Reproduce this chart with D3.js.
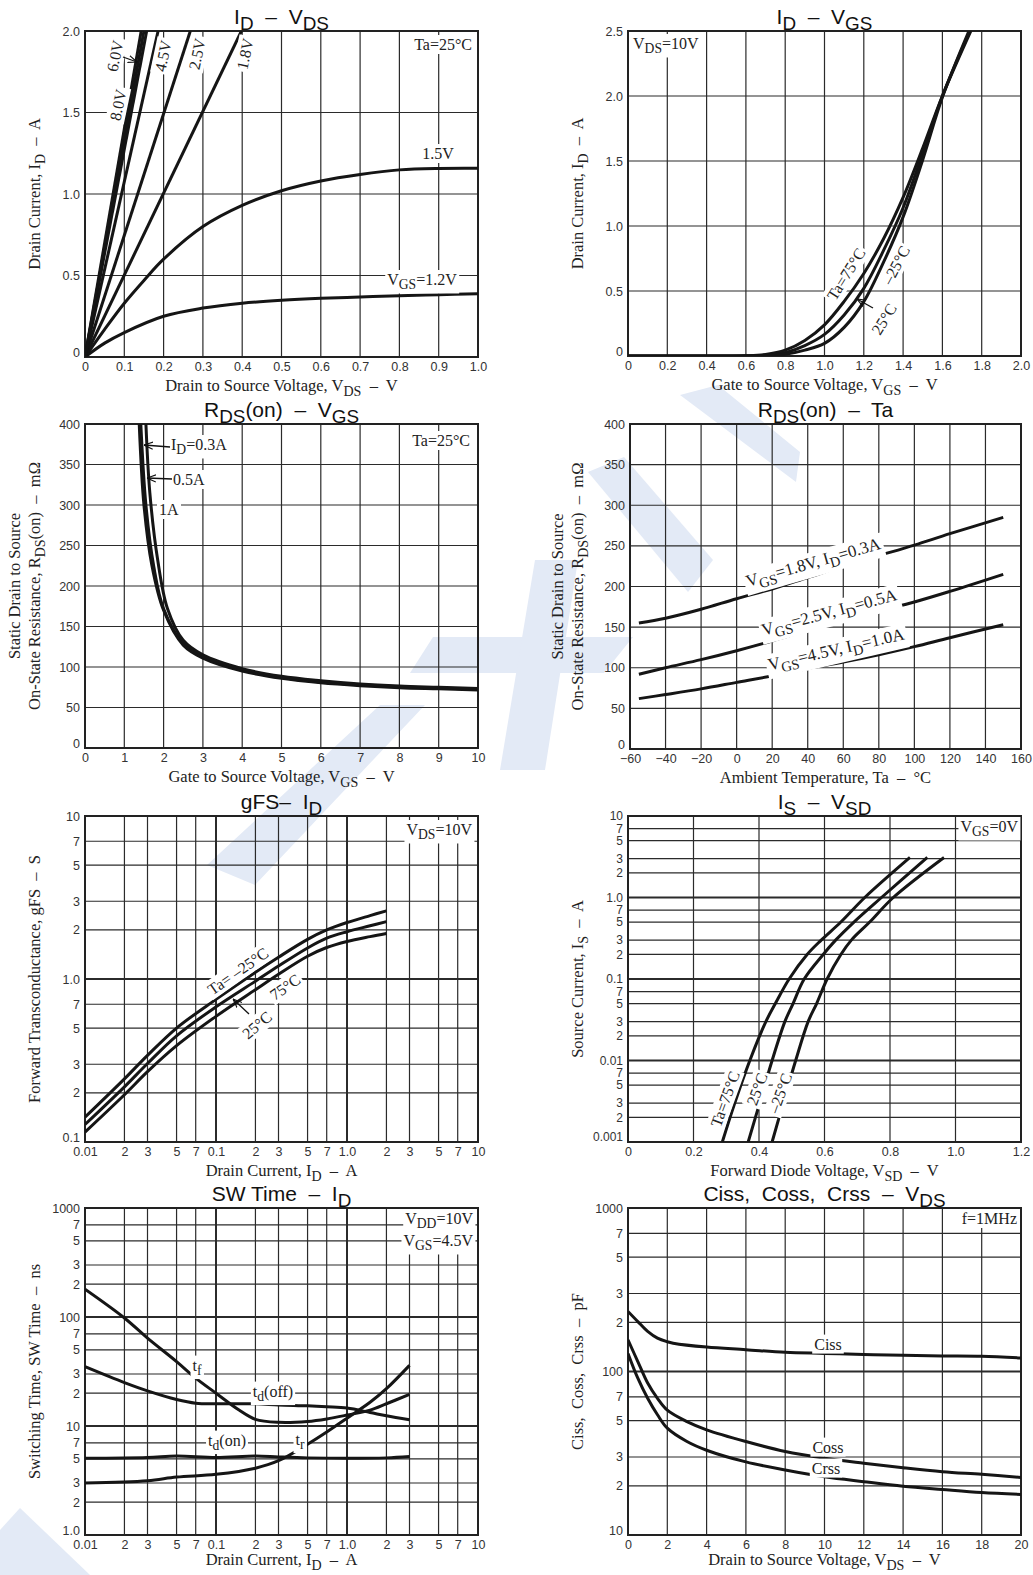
<!DOCTYPE html>
<html>
<head>
<meta charset="utf-8">
<script src="https://cdn.jsdelivr.net/npm/d3@7"></script>
<style>
body { margin: 0; background: #fff; }
.tick text { font-family: "Liberation Sans", Arial, sans-serif; font-size: 12.5px; fill: #333; }
.serif { font-family: "Liberation Serif", "Times New Roman", serif; fill: #222; }
.title { font-family: "Liberation Sans", Arial, sans-serif; fill: #111; }
</style>
</head>
<body>
<script>
// ---------- data ----------

// ID - VDS
var vdsTicks = [0, 0.1, 0.2, 0.3, 0.4, 0.5, 0.6, 0.7, 0.8, 0.9, 1.0];
var vdsTickLabels = ["0", "0.1", "0.2", "0.3", "0.4", "0.5", "0.6", "0.7", "0.8", "0.9", "1.0"];
var idTicksA = [0, 0.5, 1.0, 1.5, 2.0];
var idTickLabelsA = ["0", "0.5", "1.0", "1.5", "2.0"];
var idVds12 = [[0,0],[0.05,0.085],[0.1,0.15],[0.2,0.25],[0.3,0.3],[0.4,0.33],[0.5,0.348],[0.6,0.36],[0.7,0.368],[0.8,0.376],[0.9,0.382],[1.0,0.388]];
var idVds15 = [[0,0],[0.05,0.17],[0.1,0.33],[0.15,0.47],[0.2,0.6],[0.3,0.8],[0.4,0.93],[0.5,1.02],[0.6,1.08],[0.7,1.12],[0.8,1.148],[0.9,1.157],[1.0,1.158]];
var idVds18 = [[0,0],[0.398,2.0]];
var idVds25 = [[0,0],[0.268,2.0]];
var idVds45 = [[0,0],[0.186,2.0]];
var idVds60 = [[0,0],[0.157,2.0]];
var idVds80 = [[0,0],[0.15,2.0]];
var idVds100 = [[0,0],[0.143,2.0]];

// ID - VGS
var vgsTicksB = [0, 0.2, 0.4, 0.6, 0.8, 1.0, 1.2, 1.4, 1.6, 1.8, 2.0];
var vgsTickLabelsB = ["0", "0.2", "0.4", "0.6", "0.8", "1.0", "1.2", "1.4", "1.6", "1.8", "2.0"];
var idTicksB = [0, 0.5, 1.0, 1.5, 2.0, 2.5];
var idTickLabelsB = ["0", "0.5", "1.0", "1.5", "2.0", "2.5"];
var idVgs75 = [[0,0],[0.5,0],[0.6,0.002],[0.7,0.012],[0.8,0.045],[0.9,0.12],[1.0,0.24],[1.1,0.42],[1.2,0.635],[1.3,0.9],[1.4,1.22],[1.5,1.6],[1.6,2.0],[1.745,2.5]];
var idVgs25 = [[0,0],[0.5,0],[0.6,0.001],[0.7,0.007],[0.8,0.026],[0.9,0.08],[1.0,0.166],[1.1,0.315],[1.2,0.52],[1.3,0.81],[1.4,1.14],[1.5,1.56],[1.6,2.0],[1.74,2.5]];
var idVgsM25 = [[0,0],[0.6,0],[0.7,0.003],[0.8,0.013],[0.9,0.045],[1.0,0.097],[1.1,0.22],[1.2,0.418],[1.3,0.72],[1.4,1.07],[1.5,1.51],[1.6,1.99],[1.735,2.5]];

// RDS(on) - VGS
var vgsTicksC = [0, 1, 2, 3, 4, 5, 6, 7, 8, 9, 10];
var vgsTickLabelsC = ["0", "1", "2", "3", "4", "5", "6", "7", "8", "9", "10"];
var rdsTicks = [0, 50, 100, 150, 200, 250, 300, 350, 400];
var rdsTickLabels = ["0", "50", "100", "150", "200", "250", "300", "350", "400"];
var rdsVgs03 = [[1.38,400],[1.5,300],[1.7,226],[2,170],[2.5,127],[3,111],[4,95],[5,86],[6,80.5],[7,77],[8,74.5],[9,73],[10,71.5]];
var rdsVgs05 = [[1.42,400],[1.55,300],[1.75,224],[2,172],[2.5,129],[3,113],[4,96.5],[5,87],[6,81.5],[7,78],[8,75.5],[9,74],[10,72.5]];
var rdsVgs10 = [[1.55,400],[1.65,315],[1.85,232],[2.1,172],[2.5,133],[3,115],[4,98],[5,88.5],[6,83],[7,79],[8,76.5],[9,75],[10,73.5]];

// RDS(on) - Ta
var taTicks = [-60, -40, -20, 0, 20, 40, 60, 80, 100, 120, 140, 160];
var taTickLabels = ["\u221260", "\u221240", "\u221220", "0", "20", "40", "60", "80", "100", "120", "140", "160"];
var rdsTa18 = [[-55,155],[-40,161],[-20,172],[0,185],[20,197],[40,211],[60,225],[80,238],[100,251],[120,265],[150,285]];
var rdsTa25 = [[-55,92],[-40,100],[-20,110],[0,121],[20,133],[40,146],[60,158],[80,170],[100,181],[120,194],[150,215]];
var rdsTa45 = [[-55,62],[-40,67],[-20,74],[0,82],[20,90],[40,99],[60,107],[80,116],[100,126],[120,137],[150,153]];

// log axes
var idLogTicks = [0.01,0.02,0.03,0.05,0.07,0.1,0.2,0.3,0.5,0.7,1,2,3,5,7,10];
var idLogLabels = ["0.01","2","3","5","7","0.1","2","3","5","7","1.0","2","3","5","7","10"];

// gFS - ID
var gfsTicks = [0.1,0.2,0.3,0.5,0.7,1,2,3,5,7,10];
var gfsTickLabels = ["0.1","2","3","5","7","1.0","2","3","5","7","10"];
var gfsM25 = [[0.01,0.142],[0.02,0.244],[0.03,0.34],[0.05,0.5],[0.1,0.75],[0.2,1.1],[0.3,1.36],[0.5,1.75],[0.7,2.0],[1.0,2.22],[1.5,2.45],[2.0,2.62]];
var gfs25 = [[0.01,0.128],[0.02,0.218],[0.03,0.303],[0.05,0.448],[0.1,0.675],[0.2,0.97],[0.3,1.2],[0.5,1.55],[0.7,1.78],[1.0,1.95],[1.5,2.12],[2.0,2.25]];
var gfs75 = [[0.01,0.115],[0.02,0.195],[0.03,0.27],[0.05,0.39],[0.1,0.59],[0.2,0.86],[0.3,1.07],[0.5,1.38],[0.7,1.56],[1.0,1.7],[1.5,1.82],[2.0,1.9]];

// IS - VSD
var vsdTicks = [0, 0.2, 0.4, 0.6, 0.8, 1.0, 1.2];
var vsdTickLabels = ["0", "0.2", "0.4", "0.6", "0.8", "1.0", "1.2"];
var isTicks = [0.001,0.002,0.003,0.005,0.007,0.01,0.02,0.03,0.05,0.07,0.1,0.2,0.3,0.5,0.7,1,2,3,5,7,10];
var isTickLabels = ["0.001","2","3","5","7","0.01","2","3","5","7","0.1","2","3","5","7","1.0","2","3","5","7","10"];
var isVsd75 = [[0.288,0.001],[0.326,0.003],[0.372,0.01],[0.421,0.03],[0.45,0.05],[0.492,0.1],[0.547,0.2],[0.59,0.3],[0.65,0.5],[0.723,1.0],[0.861,3.1]];
var isVsd25 = [[0.367,0.001],[0.402,0.003],[0.44,0.01],[0.479,0.03],[0.504,0.05],[0.538,0.1],[0.596,0.2],[0.634,0.3],[0.69,0.5],[0.774,1.0],[0.914,3.1]];
var isVsdM25 = [[0.44,0.001],[0.474,0.003],[0.512,0.01],[0.55,0.03],[0.576,0.05],[0.608,0.1],[0.65,0.2],[0.682,0.3],[0.738,0.5],[0.81,1.0],[0.965,3.1]];

// SW time - ID
var swTicks = [1,2,3,5,7,10,20,30,50,70,100,200,300,500,700,1000];
var swTickLabels = ["1.0","2","3","5","7","10","2","3","5","7","100","2","3","5","7","1000"];
var swTf = [[0.01,180],[0.02,98],[0.03,64],[0.05,39],[0.07,27.5],[0.1,20],[0.15,14],[0.2,11.5],[0.3,10.8],[0.5,11],[0.7,11.6],[1.0,12.6],[1.5,14],[2.0,16],[3.0,19.5]];
var swTdOff = [[0.01,35],[0.02,25],[0.03,21],[0.05,17.5],[0.07,16.2],[0.1,16],[0.2,16],[0.3,15.6],[0.5,15.3],[0.7,15],[1.0,14.6],[1.5,13.3],[2.0,12.4],[3.0,11.4]];
var swTr = [[0.01,3.0],[0.03,3.15],[0.05,3.4],[0.1,3.6],[0.2,4.1],[0.3,4.8],[0.5,6.8],[0.7,8.8],[1.0,11.8],[1.5,16.5],[2.0,22],[3.0,36]];
var swTdOn = [[0.01,5.05],[0.03,5.15],[0.05,5.3],[0.1,5.15],[0.2,5.3],[0.3,5.2],[0.5,5.1],[1.0,5.05],[2.0,5.1],[3.0,5.25]];

// Ciss, Coss, Crss - VDS
var vdsTicksH = [0, 2, 4, 6, 8, 10, 12, 14, 16, 18, 20];
var vdsTickLabelsH = ["0", "2", "4", "6", "8", "10", "12", "14", "16", "18", "20"];
var capTicks = [10,20,30,50,70,100,200,300,500,700,1000];
var capTickLabels = ["10","2","3","5","7","100","2","3","5","7","1000"];
var ciss = [[0,233],[0.5,202],[1,176],[1.5,160],[2,152],[2.3,149],[4,141],[6,136],[8,131],[10,129],[12,127],[14,125.6],[16,124.6],[18,124],[20,121]];
var coss = [[0,156],[0.5,115],[1,85],[1.5,68.5],[2,58],[3,49.4],[4,44],[6,37.3],[8,32.4],[10,29.5],[12,27.5],[14,25.8],[16,24.4],[18,23.5],[20,22.5]];
var crss = [[0,129],[0.5,91],[1,68.6],[1.5,54.4],[2,45],[3,37.3],[4,33],[6,28],[8,25],[10,22.7],[12,21.2],[14,19.9],[16,19],[18,18.2],[20,17.7]];

// ---------- drawing ----------
var W = 1033, H = 1575;
var svg = d3.select("body").append("svg").attr("width", W).attr("height", H);

svg.append("defs").append("marker")
    .attr("id", "ah").attr("viewBox", "0 0 10 10")
    .attr("refX", 10).attr("refY", 5)
    .attr("markerWidth", 9).attr("markerHeight", 9)
    .attr("markerUnits", "userSpaceOnUse")
    .attr("orient", "auto")
    .append("path").attr("d", "M0,1L10,5L0,9")
    .attr("fill", "none").attr("stroke", "#111").attr("stroke-width", 1.3);

// faint logo in the background
var watermark = [
    [[680,395],[718,385],[800,452],[796,482]],
    [[588,472],[624,457],[713,560],[688,592]],
    [[433,637],[633,637],[604,673],[410,673]],
    [[535,560],[578,560],[545,770],[500,770]],
    [[380,705],[425,705],[255,885],[207,865]],
    [[0,1530],[20,1508],[90,1575],[0,1575]]
];
svg.append("g").selectAll("polygon").data(watermark).join("polygon")
    .attr("points", d => d.map(p => p.join(",")).join(" "))
    .attr("fill", "#e3eaf6");

function isDecade(d) {
    var l = Math.log10(d);
    return Math.abs(l - Math.round(l)) < 1e-6;
}

function addText(parent, str, size, subScale) {
    var t = parent.append("text").style("white-space", "pre").attr("font-size", size);
    var parts = str.split(/(_\{[^}]*\})/);
    var down = false;
    parts.forEach(function(p) {
        if (p === "") return;
        var m = /^_\{(.*)\}$/.exec(p);
        if (m) {
            t.append("tspan").attr("dy", down ? 0 : size * 0.28).attr("font-size", size * subScale).text(m[1]);
            down = true;
        } else {
            t.append("tspan").attr("dy", down ? -size * 0.28 : 0).text(p);
            down = false;
        }
    });
    return t;
}

function note(str, x, y, o) {
    o = o || {};
    var size = o.size || 16;
    var g = svg.append("g").attr("transform", "translate(" + x + "," + y + ") rotate(" + (o.rot || 0) + ")");
    var t = addText(g, str, size, 0.85)
        .attr("class", "serif")
        .attr("text-anchor", o.anchor || "middle")
        .attr("y", o.mid ? size * 0.35 : 0);
    if (o.bg !== false) {
        var b = t.node().getBBox();
        g.insert("rect", "text")
            .attr("x", b.x - 2).attr("y", b.y - 1)
            .attr("width", b.width + 4).attr("height", b.height + 2)
            .attr("fill", "#fff");
    }
    return g;
}

function arrow(x1, y1, x2, y2) {
    svg.append("line")
        .attr("x1", x1).attr("y1", y1).attr("x2", x2).attr("y2", y2)
        .attr("stroke", "#111").attr("stroke-width", 1.3)
        .attr("marker-end", "url(#ah)");
}

var clipId = 0;
function panel(c) {
    var w = c.x1 - c.x0, h = c.y1 - c.y0;
    var g = svg.append("g").attr("transform", "translate(" + c.x0 + "," + c.y0 + ")");

    var x = (c.xLog ? d3.scaleLog() : d3.scaleLinear()).domain(c.xDomain).range([0, w]);
    var y = (c.yLog ? d3.scaleLog() : d3.scaleLinear()).domain(c.yDomain).range([h, 0]);

    // grid
    g.append("g").selectAll("line").data(c.xTicks).join("line")
        .attr("x1", d => x(d)).attr("x2", d => x(d))
        .attr("y1", 0).attr("y2", h)
        .attr("stroke", "#2b2b2b")
        .attr("stroke-width", d => (c.xLog && isDecade(d)) ? 2 : 1.2);
    g.append("g").selectAll("line").data(c.yTicks).join("line")
        .attr("y1", d => y(d)).attr("y2", d => y(d))
        .attr("x1", 0).attr("x2", w)
        .attr("stroke", "#2b2b2b")
        .attr("stroke-width", d => (c.yLog && isDecade(d)) ? 2 : 1.2);

    // tick labels
    var xl = c.xLabels, yl = c.yLabels;
    g.append("g").attr("transform", "translate(0," + h + ")")
        .call(d3.axisBottom(x).tickValues(c.xTicks).tickFormat((d, i) => xl[i]).tickSize(0).tickPadding(5))
        .call(a => a.select(".domain").remove());
    var ya = g.append("g")
        .call(d3.axisLeft(y).tickValues(c.yTicks).tickFormat((d, i) => yl[i]).tickSize(0).tickPadding(5))
        .call(a => a.select(".domain").remove());
    if (c.yFont) ya.selectAll(".tick text").style("font-size", c.yFont);
    // lowest label sits a little above its line, clear of the x labels
    ya.selectAll(".tick").filter(d => d === c.yDomain[0])
        .select("text").attr("transform", "translate(0,-5)");

    // frame
    g.append("rect").attr("width", w).attr("height", h)
        .attr("fill", "none").attr("stroke", "#222").attr("stroke-width", 2);

    // curves
    clipId++;
    g.append("clipPath").attr("id", "clip" + clipId)
        .append("rect").attr("width", w).attr("height", h);
    var line = d3.line()
        .x(d => x(d[0])).y(d => y(d[1]))
        .curve(d3.curveCatmullRom.alpha(0.5));
    g.append("g").attr("clip-path", "url(#clip" + clipId + ")")
        .selectAll("path").data(c.series).join("path")
        .attr("d", line)
        .attr("fill", "none").attr("stroke", "#151515")
        .attr("stroke-width", 3).attr("stroke-linejoin", "round");

    // title
    var cx = c.x0 + w / 2;
    addText(svg, c.title, 21, 0.9).attr("class", "title")
        .attr("text-anchor", "middle")
        .attr("x", cx).attr("y", c.y0 - 7);

    // axis labels
    addText(svg, c.xTitle, 16.5, 0.85).attr("class", "serif")
        .attr("text-anchor", "middle")
        .attr("x", cx).attr("y", c.y1 + (c.xTitleGap || 34));
    var ycy = c.y0 + h / 2;
    c.yTitle.forEach(function(s, i, arr) {
        var bx = c.yTitleX - (arr.length - 1 - i) * 20;
        addText(svg, s, 16.5, 0.85).attr("class", "serif")
            .attr("text-anchor", "middle")
            .attr("transform", "translate(" + bx + "," + ycy + ") rotate(-90)");
    });
    return g;
}

// 1. ID - VDS
panel({
    x0: 85, x1: 478, y0: 31, y1: 357,
    xDomain: [0, 1], yDomain: [0, 2],
    xTicks: vdsTicks, xLabels: vdsTickLabels,
    yTicks: idTicksA, yLabels: idTickLabelsA,
    series: [idVds12, idVds15, idVds18, idVds25, idVds45, idVds60, idVds80, idVds100],
    title: "I_{D}  \u2013  V_{DS}",
    xTitle: "Drain to Source Voltage, V_{DS}  \u2013  V",
    yTitle: ["Drain Current, I_{D}  \u2013  A"], yTitleX: 40
});
note("Ta=25\u00b0C", 472, 50, {anchor: "end"});
note("1.5V", 438, 159);
note("V_{GS}=1.2V", 422, 285);
note("6.0V", 115, 56, {rot: -78, mid: true});
note("8.0V", 118, 105, {rot: -78, mid: true});
note("4.5V", 163, 56, {rot: -78, mid: true});
note("2.5V", 197, 54, {rot: -78, mid: true});
note("1.8V", 245, 54, {rot: -78, mid: true});
arrow(123, 57, 137, 62);

// 2. ID - VGS
panel({
    x0: 628, x1: 1021, y0: 31, y1: 356,
    xDomain: [0, 2], yDomain: [0, 2.5],
    xTicks: vgsTicksB, xLabels: vgsTickLabelsB,
    yTicks: idTicksB, yLabels: idTickLabelsB,
    series: [idVgs75, idVgs25, idVgsM25],
    title: "I_{D}  \u2013  V_{GS}",
    xTitle: "Gate to Source Voltage, V_{GS}  \u2013  V",
    yTitle: ["Drain Current, I_{D}  \u2013  A"], yTitleX: 583
});
note("V_{DS}=10V", 633, 49, {anchor: "start"});
note("Ta=75\u00b0C", 846, 274, {rot: -58, mid: true});
note("\u201325\u00b0C", 896, 265, {rot: -62, mid: true});
note("25\u00b0C", 884, 319, {rot: -58, mid: true});
arrow(873, 308, 857, 299);

// 3. RDS(on) - VGS
panel({
    x0: 85, x1: 478, y0: 424, y1: 748,
    xDomain: [0, 10], yDomain: [0, 400],
    xTicks: vgsTicksC, xLabels: vgsTickLabelsC,
    yTicks: rdsTicks, yLabels: rdsTickLabels,
    series: [rdsVgs03, rdsVgs05, rdsVgs10],
    title: "R_{DS}(on)  \u2013  V_{GS}",
    xTitle: "Gate to Source Voltage, V_{GS}  \u2013  V",
    yTitle: ["Static Drain to Source", "On-State Resistance, R_{DS}(on)  \u2013  m\u03a9"], yTitleX: 40
});
note("Ta=25\u00b0C", 470, 446, {anchor: "end"});
note("I_{D}=0.3A", 171, 450, {anchor: "start"});
note("0.5A", 173, 485, {anchor: "start"});
note("1A", 159, 515, {anchor: "start"});
arrow(170, 447, 144, 445);
arrow(172, 479, 147, 478);

// 4. RDS(on) - Ta
panel({
    x0: 630, x1: 1021, y0: 424, y1: 749,
    xDomain: [-60, 160], yDomain: [0, 400],
    xTicks: taTicks, xLabels: taTickLabels,
    yTicks: rdsTicks, yLabels: rdsTickLabels,
    series: [rdsTa18, rdsTa25, rdsTa45],
    title: "R_{DS}(on)  \u2013  Ta",
    xTitle: "Ambient Temperature, Ta  \u2013  \u00b0C",
    yTitle: ["Static Drain to Source", "On-State Resistance, R_{DS}(on)  \u2013  m\u03a9"], yTitleX: 583
});
note("V_{GS}=1.8V, I_{D}=0.3A", 813, 562, {rot: -16, mid: true, size: 17});
note("V_{GS}=2.5V, I_{D}=0.5A", 829, 612, {rot: -15, mid: true, size: 17});
note("V_{GS}=4.5V, I_{D}=1.0A", 836, 649, {rot: -13, mid: true, size: 17});

// 5. gFS - ID
panel({
    x0: 85, x1: 478, y0: 816, y1: 1142,
    xLog: true, yLog: true,
    xDomain: [0.01, 10], yDomain: [0.1, 10],
    xTicks: idLogTicks, xLabels: idLogLabels,
    yTicks: gfsTicks, yLabels: gfsTickLabels,
    series: [gfsM25, gfs25, gfs75],
    title: "gFS\u2013  I_{D}",
    xTitle: "Drain Current, I_{D}  \u2013  A",
    yTitle: ["Forward Transconductance, gFS  \u2013  S"], yTitleX: 40
});
note("V_{DS}=10V", 472, 835, {anchor: "end"});
note("Ta= \u201325\u00b0C", 238, 971, {rot: -35, mid: true});
note("75\u00b0C", 285, 987, {rot: -35, mid: true});
note("25\u00b0C", 257, 1025, {rot: -40, mid: true});
arrow(249, 1014, 233, 999);

// 6. IS - VSD
panel({
    x0: 628, x1: 1021, y0: 816, y1: 1142,
    yLog: true,
    xDomain: [0, 1.2], yDomain: [0.001, 10],
    xTicks: vsdTicks, xLabels: vsdTickLabels,
    yTicks: isTicks, yLabels: isTickLabels, yFont: "12px",
    series: [isVsd75, isVsd25, isVsdM25],
    title: "I_{S}  \u2013  V_{SD}",
    xTitle: "Forward Diode Voltage, V_{SD}  \u2013  V",
    yTitle: ["Source Current, I_{S}  \u2013  A"], yTitleX: 583
});
note("V_{GS}=0V", 1018, 832, {anchor: "end"});
note("Ta=75\u00b0C", 725, 1099, {rot: -70, mid: true});
note("25\u00b0C", 757, 1089, {rot: -70, mid: true});
note("\u201325\u00b0C", 780, 1093, {rot: -70, mid: true});

// 7. SW time - ID
panel({
    x0: 85, x1: 478, y0: 1208, y1: 1535,
    xLog: true, yLog: true,
    xDomain: [0.01, 10], yDomain: [1, 1000],
    xTicks: idLogTicks, xLabels: idLogLabels,
    yTicks: swTicks, yLabels: swTickLabels,
    series: [swTf, swTdOff, swTr, swTdOn],
    title: "SW Time  \u2013  I_{D}",
    xTitle: "Drain Current, I_{D}  \u2013  A", xTitleGap: 30,
    yTitle: ["Switching Time, SW Time  \u2013  ns"], yTitleX: 40
});
note("V_{DD}=10V", 473, 1224, {anchor: "end"});
note("V_{GS}=4.5V", 473, 1246, {anchor: "end"});
note("t_{f}", 197, 1365, {mid: true});
note("t_{d}(off)", 273, 1391, {mid: true});
note("t_{d}(on)", 227, 1440, {mid: true});
note("t_{r}", 300, 1439, {mid: true});

// 8. Ciss, Coss, Crss - VDS
panel({
    x0: 628, x1: 1021, y0: 1208, y1: 1535,
    yLog: true,
    xDomain: [0, 20], yDomain: [10, 1000],
    xTicks: vdsTicksH, xLabels: vdsTickLabelsH,
    yTicks: capTicks, yLabels: capTickLabels,
    series: [ciss, coss, crss],
    title: "Ciss,  Coss,  Crss  \u2013  V_{DS}",
    xTitle: "Drain to Source Voltage, V_{DS}  \u2013  V", xTitleGap: 30,
    yTitle: ["Ciss,  Coss,  Crss  \u2013  pF"], yTitleX: 583
});
note("f=1MHz", 1017, 1224, {anchor: "end"});
note("Ciss", 828, 1344, {mid: true});
note("Coss", 828, 1447, {mid: true});
note("Crss", 826, 1468, {mid: true});
</script>
</body>
</html>
